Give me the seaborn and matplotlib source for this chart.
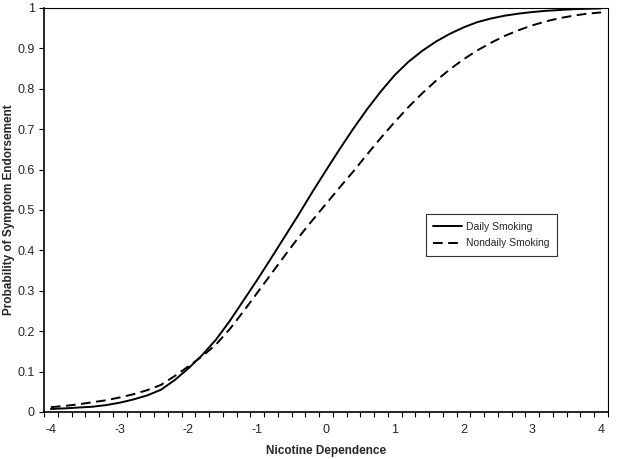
import matplotlib
matplotlib.use("Agg")
import matplotlib.pyplot as plt
import numpy as np
import pandas as pd
import seaborn as sns

# values, one per category (-4 to 4 in steps of 0.2)
nicotine = [round(-4 + 0.2 * i, 1) for i in range(41)]
daily = [0.0075, 0.009, 0.011, 0.013, 0.017, 0.023, 0.031, 0.041, 0.055, 0.079,
         0.108, 0.141, 0.179, 0.225, 0.276, 0.327, 0.380, 0.434, 0.488, 0.544,
         0.598, 0.651, 0.702, 0.750, 0.794, 0.834, 0.867, 0.894, 0.917, 0.936,
         0.952, 0.965, 0.974, 0.981, 0.986, 0.990, 0.993, 0.995, 0.997, 0.998,
         0.999]
nondaily = [0.012, 0.015, 0.019, 0.024, 0.029, 0.036, 0.044, 0.054, 0.067, 0.089,
            0.113, 0.138, 0.167, 0.205, 0.249, 0.295, 0.341, 0.387, 0.432, 0.474,
            0.515, 0.556, 0.596, 0.638, 0.679, 0.718, 0.755, 0.789, 0.820, 0.848,
            0.873, 0.895, 0.914, 0.931, 0.945, 0.957, 0.967, 0.975, 0.981, 0.986,
            0.989]
groups = ['Daily Smoking', 'Nondaily Smoking']

df = pd.DataFrame({'x': nicotine * 2,
                   'p': daily + nondaily,
                   'Group': [groups[0]] * len(nicotine) + [groups[1]] * len(nicotine)})

sns.set_style('white')
plt.rcParams['font.family'] = ['Liberation Sans', 'DejaVu Sans']

fig = plt.figure(figsize=(6.17, 4.59), dpi=100)
ax = fig.add_axes([0.0713, 0.1024, 0.9141, 0.8802])

dash = (5, 2.8)
sns.lineplot(data=df, x='x', y='p', style='Group', style_order=groups,
             dashes={groups[0]: '', groups[1]: dash},
             color='black', linewidth=1.4, ax=ax, legend=False)

ax.set_xlim(-4.1, 4.1)
ax.set_ylim(0, 1)
ax.set_xticks(np.arange(-4, 5, 1))
ax.set_xticklabels([str(v) for v in range(-4, 5)])
ax.set_xticks(np.arange(-4.1, 4.11, 0.2), minor=True)
ax.tick_params(axis='x', which='major', length=0, labelsize=9, pad=9)
ax.tick_params(axis='x', which='minor', direction='out', length=3.5, width=0.8,
               color='black', bottom=True)
ax.set_yticks(np.arange(0, 1.01, 0.1))
ax.set_yticklabels(['0'] + ['%.1f' % v for v in np.arange(0.1, 0.95, 0.1)] + ['1'])
ax.tick_params(axis='y', direction='out', length=3.5, width=0.8, color='black',
               labelsize=9, left=True, pad=3)

for s in ax.spines.values():
    s.set_color('black')
    s.set_linewidth(0.8)
ax.spines['left'].set_linewidth(1.2)
ax.spines['bottom'].set_linewidth(1.2)

ax.set_xlabel('Nicotine Dependence', fontsize=8.5, fontweight='bold', labelpad=6)
ax.set_ylabel('Probability of Symptom Endorsement', fontsize=8.5, fontweight='bold')
ax.yaxis.set_label_coords(-0.052, 0.5)

handles = [plt.Line2D([], [], color='black', lw=1.4),
           plt.Line2D([], [], color='black', lw=1.4, dashes=dash)]
leg = ax.legend(handles, groups, loc='upper left', bbox_to_anchor=(0.677, 0.489),
                fontsize=7.5, frameon=True, fancybox=False, handlelength=2.8,
                borderpad=0.7, labelspacing=0.65, handletextpad=0.4, borderaxespad=0)
leg.get_frame().set_edgecolor('black')
leg.get_frame().set_linewidth(0.8)

fig.savefig('out.png', dpi=100)
